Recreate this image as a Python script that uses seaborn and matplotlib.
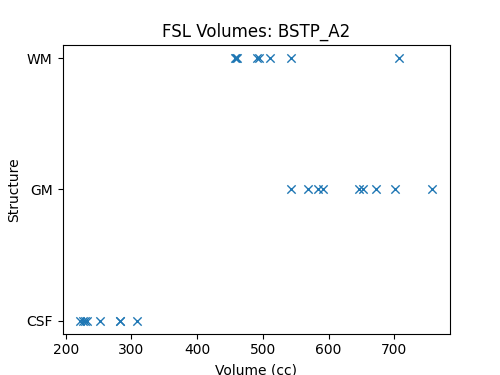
import pandas as pd
import matplotlib
matplotlib.use("Agg")
import matplotlib.pyplot as plt
import seaborn as sns

csf = [222, 226, 229, 233, 252, 282, 283, 309]
gm = [543, 569, 584, 591, 647, 652, 672, 701, 758]
wm = [458, 459, 461, 491, 494, 511, 543, 707]

df = pd.DataFrame({
    "Volume": wm + gm + csf,
    "Structure": ["WM"] * len(wm) + ["GM"] * len(gm) + ["CSF"] * len(csf),
})

fig, ax = plt.subplots(figsize=(5, 3.75), dpi=100)
sns.scatterplot(data=df, x="Volume", y="Structure", marker="x", color="C0", s=36, linewidth=1, ax=ax)
ax.set_title("FSL Volumes: BSTP_A2")
ax.set_xlabel("Volume (cc)")
ax.set_ylabel("Structure")
fig.savefig("out.png")
